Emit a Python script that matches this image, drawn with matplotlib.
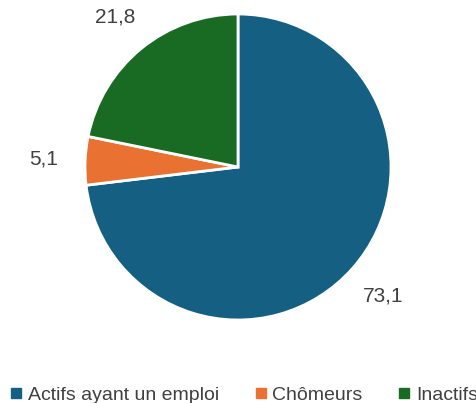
import matplotlib
matplotlib.use("Agg")
import matplotlib.pyplot as plt
from matplotlib.lines import Line2D

# --- data ---
categories = ["Actifs ayant un emploi", "Chômeurs", "Inactifs"]
values = [73.1, 5.1, 21.8]
colors = ["#156082", "#e97132", "#196b24"]
value_labels = [f"{v:.1f}".replace(".", ",") for v in values]

plt.rcParams["font.family"] = ["Liberation Sans", "DejaVu Sans"]
text_color = "#404040"

fig = plt.figure(figsize=(4.76, 4.03), dpi=100)
cx, cy, r = 238, 403 - 167, 153
ax = fig.add_axes([(cx - r) / 476, (cy - r) / 403, 2 * r / 476, 2 * r / 403])

wedges, texts = ax.pie(
    values,
    colors=colors,
    labels=value_labels,
    labeldistance=1.27,
    startangle=90,
    counterclock=False,
    wedgeprops=dict(edgecolor="white", linewidth=2),
    textprops=dict(fontsize=15, color=text_color),
)
for t in texts:
    t.set_ha("center")
    t.set_va("center")
ax.set_xlim(-1, 1)
ax.set_ylim(-1, 1)
ax.set_aspect("equal")

handles = [
    Line2D([], [], marker="s", linestyle="none", markersize=6.5, color=c)
    for c in colors
]
fig.legend(
    handles, categories,
    loc="center", bbox_to_anchor=(0.514, 1 - 395 / 403),
    ncol=3, frameon=False, fontsize=14,
    handletextpad=0.35, columnspacing=1.9, handlelength=0.5,
    labelcolor=text_color,
)

fig.savefig("out.png", dpi=100)
